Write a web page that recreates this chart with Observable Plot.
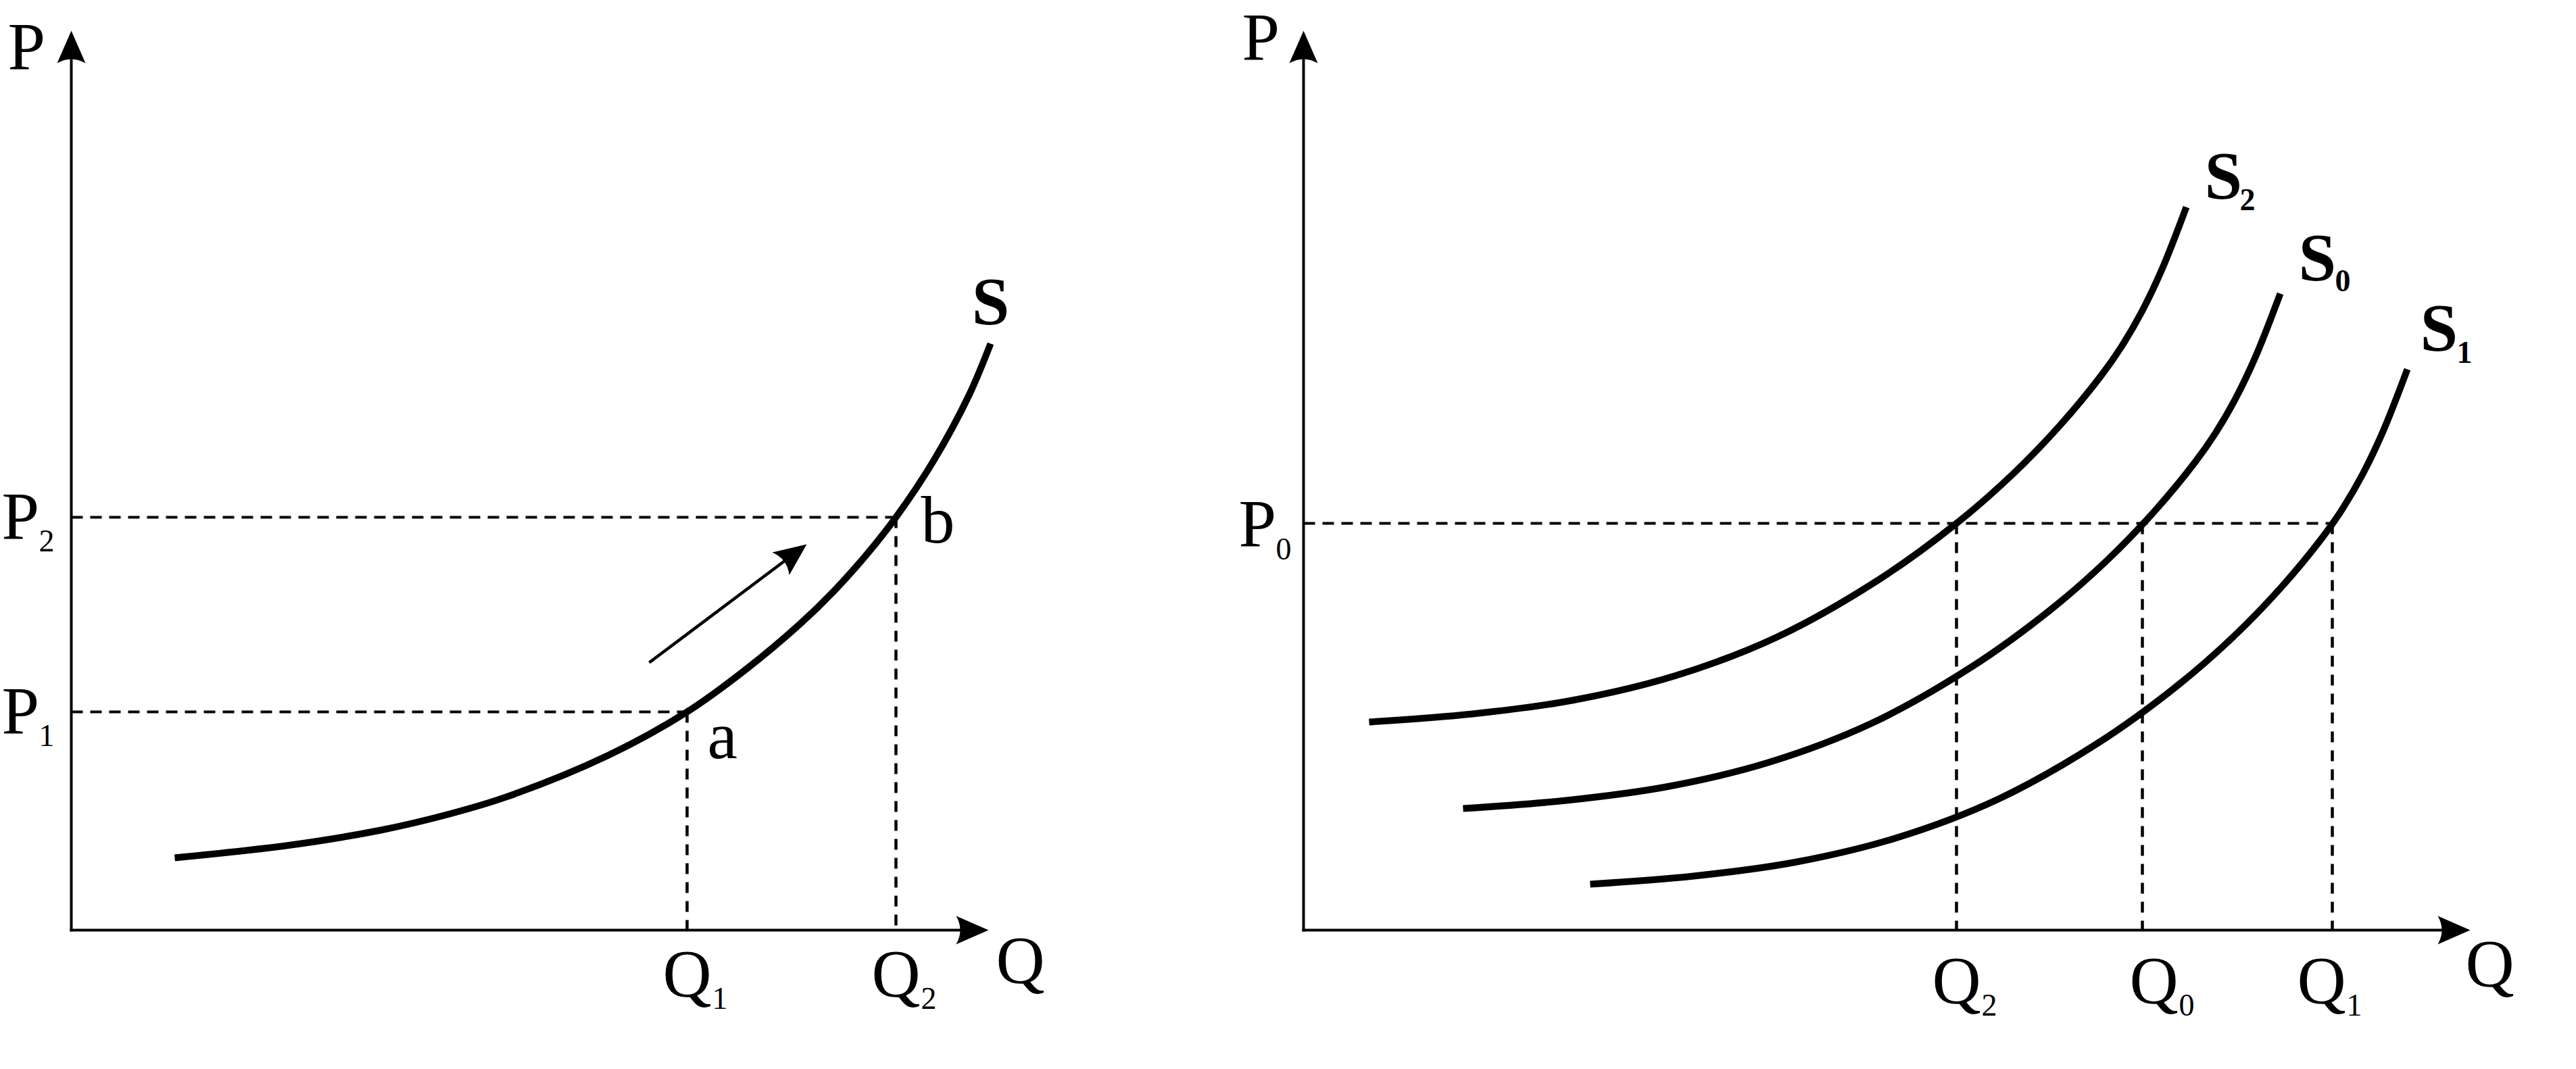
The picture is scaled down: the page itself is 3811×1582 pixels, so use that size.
<!DOCTYPE html>
<html>
<head>
<meta charset="utf-8">
<script src="https://cdn.jsdelivr.net/npm/d3@7"></script>
<script src="https://cdn.jsdelivr.net/npm/@observablehq/plot@0.6"></script>
<style>
  html, body { margin: 0; padding: 0; background: #fff; overflow: hidden; }
  #wrap { display: flex; width: 3811px; height: 1582px; }
  #wrap svg { display: block; flex: none; }
</style>
</head>
<body>
<div id="wrap"></div>
<script>
// ================= DATA (abstract units: Q = quantity, P = price) =================
// Left panel: movement along one supply curve S
const leftAxisMaxQ = 135.7;
const leftAxisMaxP = 133.1;
const leftCurveName = "S";
const leftCurveQ = [15.3, 32.5, 45.8, 55.8, 64.5, 79.5, 91.1, 99.5, 107.8, 112.8, 117.8, 122.0, 127.5, 132.8, 136.0];
const leftCurveP = [10.7, 12.6, 14.8, 17.15, 19.76, 25.9, 32.3, 38.35, 45.3, 50.15, 55.75, 61.1, 69.35, 79.15, 86.8];
const leftTickSubs = ["1", "2"];
const leftTickQ = [91.1, 122.0];
const leftTickP = [32.3, 61.1];
const leftPointNames = ["a", "b"];
const leftMoveQ = [85.5, 108.8];   // direction arrow: from, to
const leftMoveP = [39.6, 57.1];

// Right panel: shifts of the supply curve
const rightAxisMaxQ = 172.6;
const rightAxisMaxP = 133.1;
const rightCurveSubs = ["2", "0", "1"];
const s2Q = [9.7, 25.0, 40.0, 55.0, 70.0, 85.0, 96.6, 105.0, 112.0, 118.0, 121.0, 124.0, 127.0, 130.6];
const s2P = [30.8, 32.0, 34.05, 37.65, 43.35, 51.8, 60.2, 67.55, 74.8, 82.06, 86.34, 91.5, 97.8, 107.0];
const s0Q = [23.6, 38.9, 53.9, 68.9, 83.9, 98.9, 110.5, 118.9, 125.9, 131.9, 134.9, 137.9, 140.9, 144.5];
const s0P = [18.0, 19.2, 21.25, 24.85, 30.55, 39.0, 47.4, 54.75, 62.0, 69.26, 73.54, 78.7, 85.0, 94.2];
const s1Q = [42.4, 57.7, 72.7, 87.7, 102.7, 117.7, 129.3, 137.7, 144.7, 150.7, 153.7, 156.7, 159.7, 163.3];
const s1P = [6.8, 8.0, 10.05, 13.65, 19.35, 27.8, 36.2, 43.55, 50.8, 58.06, 62.34, 67.5, 73.8, 83.0];
const rightQTickSubs = ["2", "0", "1"];
const rightQTickValues = [96.6, 124.1, 152.2];
const rightPTickSubs = ["0"];
const rightPTickValues = [60.2];

// ================= HELPERS =================
const FONT = "Liberation Serif";
const MAIN = 100, SUB = 46;

// filled arrowhead with concave base; tip at origin, pointing up (rotate turns it)
const arrowHead = {
  draw(context, size) {
    const r = Math.sqrt(size / Math.PI);
    const L = 2 * r, W = 0.875 * r, c = 0.5 * r;
    context.moveTo(0, 0);
    context.lineTo(W, L);
    context.quadraticCurveTo(0, L - c, -W, L);
    context.closePath();
  }
};

function shaft(x1, y1, x2, y2, back) {
  const dx = x2 - x1, dy = y2 - y1, len = Math.hypot(dx, dy);
  return {x1, y1, x2: x2 - dx / len * back, y2: y2 - dy / len * back};
}
function heading(x1, y1, x2, y2) {
  return 90 - Math.atan2(y2 - y1, x2 - x1) * 180 / Math.PI;
}

function axesMarks(maxQ, maxP) {
  return [
    Plot.link([shaft(0, 0, 0, maxP, 4), shaft(0, 0, maxQ, 0, 4)],
      {x1: "x1", y1: "y1", x2: "x2", y2: "y2", stroke: "black", strokeWidth: 4, strokeLinecap: "square"}),
    Plot.dot([{x: 0, y: maxP, a: 0}, {x: maxQ, y: 0, a: 90}],
      {x: "x", y: "y", rotate: "a", symbol: arrowHead, r: 24, fill: "black", stroke: "none"})
  ];
}

const txt = (data, opts) => Plot.text(data, {
  fontFamily: FONT, fontSize: MAIN, lineAnchor: "bottom", fill: "black", textAnchor: "start", ...opts
});

function makePlot(width, marginLeft, marginRight, maxQ, maxP, marks) {
  return Plot.plot({
    width, height: 1582,
    marginLeft, marginRight, marginTop: 45, marginBottom: 206,
    x: {domain: [0, maxQ], axis: null},
    y: {domain: [0, maxP], axis: null},
    style: {background: "white", overflow: "visible"},
    marks
  });
}

const curveStyle = {curve: "catmull-rom", stroke: "black", strokeWidth: 10, strokeLinecap: "butt"};

// ================= LEFT PANEL =================
const leftCurve = leftCurveQ.map((q, i) => ({q, p: leftCurveP[i]}));
const leftTicks = leftTickQ.map((q, i) => ({q, p: leftTickP[i], sub: leftTickSubs[i], name: leftPointNames[i]}));
const leftGuidesH = leftTicks.map(d => ({x1: 0, y1: d.p, x2: d.q, y2: d.p}));
const leftGuidesV = leftTicks.map(d => ({x1: d.q, y1: d.p, x2: d.q, y2: 0}));
const leftEnd = leftCurve[leftCurve.length - 1];
const mv = shaft(leftMoveQ[0], leftMoveP[0], leftMoveQ[1], leftMoveP[1], 4);

const leftPlot = makePlot(1750, 105, 288, leftAxisMaxQ, leftAxisMaxP, [
  Plot.link(leftGuidesH, {x1: "x1", y1: "y1", x2: "x2", y2: "y2", stroke: "black", strokeWidth: 4, strokeDasharray: "17,11"}),
  Plot.link(leftGuidesV, {x1: "x1", y1: "y1", x2: "x2", y2: "y2", stroke: "black", strokeWidth: 4.5, strokeDasharray: "16,12"}),
  ...axesMarks(leftAxisMaxQ, leftAxisMaxP),
  Plot.line(leftCurve, {x: "q", y: "p", ...curveStyle}),
  // movement arrow
  Plot.link([mv], {x1: "x1", y1: "y1", x2: "x2", y2: "y2", stroke: "black", strokeWidth: 4.5}),
  Plot.dot([{x: leftMoveQ[1], y: leftMoveP[1]}], {x: "x", y: "y", symbol: arrowHead, r: 24,
    rotate: heading(leftMoveQ[0], leftMoveP[0], leftMoveQ[1], leftMoveP[1]), fill: "black", stroke: "none"}),
  // axis names
  txt([{x: 0, y: leftAxisMaxP}], {x: "x", y: "y", text: () => "P", dx: -94, dy: 56}),
  txt([{x: leftAxisMaxQ, y: 0}], {x: "x", y: "y", text: () => "Q", dx: 11, dy: 77}),
  // P ticks
  txt(leftTicks, {x: 0, y: "p", text: () => "P", dx: -103, dy: 31}),
  txt(leftTicks, {x: 0, y: "p", text: "sub", fontSize: SUB, dx: -48, dy: 50}),
  // Q ticks
  txt(leftTicks, {x: "q", y: 0, text: () => "Q", textAnchor: "middle", dy: 97}),
  txt(leftTicks, {x: "q", y: 0, text: "sub", fontSize: SUB, dx: 37, dy: 116}),
  // point labels
  txt([leftTicks[0]], {x: "q", y: "p", text: "name", dx: 30, dy: 68}),
  txt([leftTicks[1]], {x: "q", y: "p", text: "name", dx: 37, dy: 37}),
  // curve name
  txt([leftEnd], {x: "q", y: "p", text: () => leftCurveName, fontWeight: "bold", textAnchor: "middle", dy: -30})
]);

// ================= RIGHT PANEL =================
const seriesQ = [s2Q, s0Q, s1Q];
const seriesP = [s2P, s0P, s1P];
const rightCurves = rightCurveSubs.flatMap((s, k) => seriesQ[k].map((q, i) => ({name: "S" + s, sub: s, q, p: seriesP[k][i]})));
const rightEnds = rightCurveSubs.map((s, k) => ({sub: s, q: seriesQ[k][seriesQ[k].length - 1], p: seriesP[k][seriesP[k].length - 1]}));
const rightQTicks = rightQTickValues.map((q, i) => ({q, sub: rightQTickSubs[i]}));
const rightPTicks = rightPTickValues.map((p, i) => ({p, sub: rightPTickSubs[i]}));
const maxTickQ = d3.max(rightQTickValues);
const rightGuidesH = rightPTicks.map(d => ({x1: 0, y1: d.p, x2: maxTickQ, y2: d.p}));
const rightGuidesV = rightQTicks.map(d => ({x1: d.q, y1: rightPTickValues[0], x2: d.q, y2: 0}));
// label nudges (layout only)
const qNudge = {"2": 0, "0": 17, "1": -16};
const sLabelOffset = {"2": [27, -14, 79, 4], "0": [27, -21, 81, -4], "1": [19, -29, 73, -10]};

const rightMarks = [
  Plot.link(rightGuidesH, {x1: "x1", y1: "y1", x2: "x2", y2: "y2", stroke: "black", strokeWidth: 4, strokeDasharray: "17,11"}),
  Plot.link(rightGuidesV, {x1: "x1", y1: "y1", x2: "x2", y2: "y2", stroke: "black", strokeWidth: 4.5, strokeDasharray: "16,12"}),
  ...axesMarks(rightAxisMaxQ, rightAxisMaxP),
  Plot.line(rightCurves, {x: "q", y: "p", z: "name", ...curveStyle}),
  txt([{x: 0, y: rightAxisMaxP}], {x: "x", y: "y", text: () => "P", dx: -91, dy: 42}),
  txt([{x: rightAxisMaxQ, y: 0}], {x: "x", y: "y", text: () => "Q", dx: -7, dy: 82}),
  txt(rightPTicks, {x: 0, y: "p", text: () => "P", dx: -96, dy: 33}),
  txt(rightPTicks, {x: 0, y: "p", text: "sub", fontSize: SUB, dx: -41, dy: 53}),
];
for (const t of rightQTicks) {
  rightMarks.push(txt([t], {x: "q", y: 0, text: () => "Q", textAnchor: "middle", dx: qNudge[t.sub], dy: 107}));
  rightMarks.push(txt([t], {x: "q", y: 0, text: "sub", fontSize: SUB, dx: 37 + qNudge[t.sub], dy: 126}));
}
for (const e of rightEnds) {
  const [dx, dy, sdx, sdy] = sLabelOffset[e.sub];
  rightMarks.push(txt([e], {x: "q", y: "p", text: () => "S", fontWeight: "bold", dx, dy}));
  rightMarks.push(txt([e], {x: "q", y: "p", text: "sub", fontWeight: "bold", fontSize: SUB, dx: sdx, dy: sdy}));
}
const rightPlot = makePlot(2061, 178, 157, rightAxisMaxQ, rightAxisMaxP, rightMarks);

const wrap = document.getElementById("wrap");
wrap.appendChild(leftPlot);
wrap.appendChild(rightPlot);
</script>
</body>
</html>
